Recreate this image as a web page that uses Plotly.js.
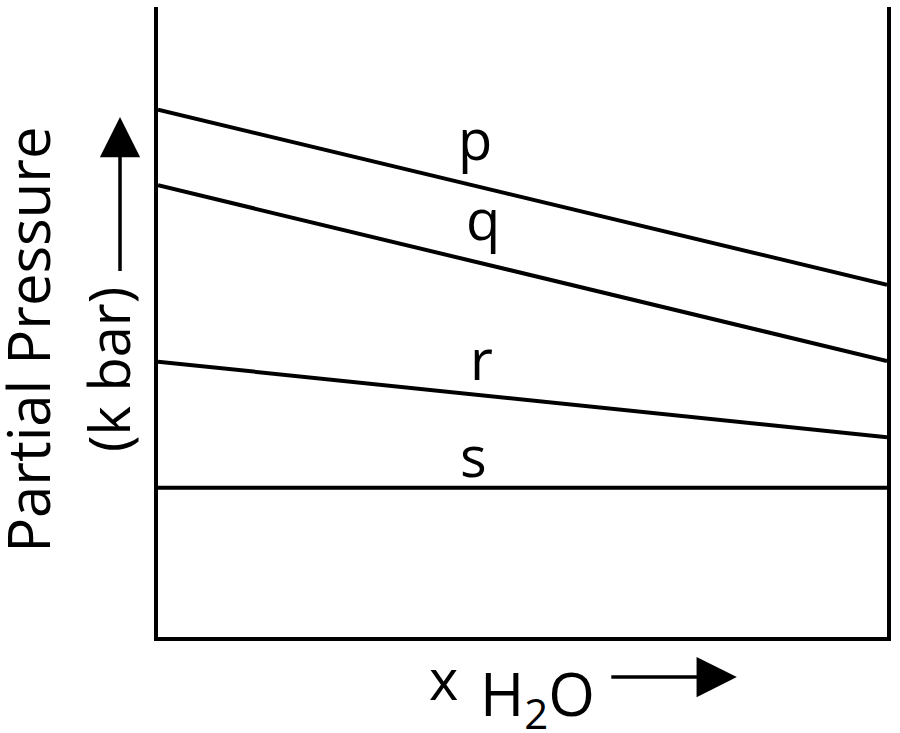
<!DOCTYPE html>
<html>
<head>
<meta charset="utf-8">
<script src="https://cdn.plot.ly/plotly-3.0.1.min.js"></script>
<style>
  body { margin: 0; background: #fff; }
  #chart { width: 900px; height: 733px; }
</style>
</head>
<body>
<div id="chart"></div>
<script>

// x: mole fraction of H2O (0 .. 1), y: partial pressure (arbitrary)
let xFrac = [0, 1]

let pLine = [8.37, 5.59]
let qLine = [7.17, 4.38]
let rLine = [4.37, 3.17]
let sLine = [2.37, 2.37]

let lineNames = ['p', 'q', 'r', 's']


function phaseGraph() {

    TESTER = document.getElementById('chart');

    var series = [pLine, qLine, rLine, sLine]

    var veri = series.map((ys, i) => {
        return {
            x: xFrac,
            y: ys,
            mode: 'lines',
            name: lineNames[i],
            line: {color: 'black', width: 4},
            hoverinfo: 'skip'
        }
    })

    var blackFont = {family: 'Open Sans', color: 'black', size: 56}

    // labels sitting above each line
    var labelPos = [[0.435, 7.92], [0.446, 6.65], [0.444, 4.43], [0.433, 2.89]]
    var notes = lineNames.map((n, i) => {
        return {
            x: labelPos[i][0], y: labelPos[i][1],
            xref: 'x', yref: 'y',
            xanchor: 'center', yanchor: 'middle',
            text: n, showarrow: false,
            font: blackFont
        }
    })

    // y title, two rotated lines + arrow
    notes.push({
        x: -0.179, y: 0.471, xref: 'paper', yref: 'paper',
        xanchor: 'center', yanchor: 'middle',
        text: 'Partial Pressure', showarrow: false, textangle: -90,
        font: {family: 'Open Sans', color: 'black', size: 58}
    })
    notes.push({
        x: -0.0686, y: 0.4254, xref: 'paper', yref: 'paper',
        xanchor: 'center', yanchor: 'middle',
        text: '(k bar)', showarrow: false, textangle: -90,
        font: blackFont
    })
    notes.push({
        x: -0.0521, y: 0.8254, xref: 'paper', yref: 'paper',
        ax: 0, ay: 156, text: ' ', font: {size: 1},
        showarrow: true, arrowhead: 2, arrowsize: 2.3, arrowwidth: 3.5,
        arrowcolor: 'black', standoff: 0, startstandoff: 0
    })

    // x title
    notes.push({
        x: 0.391, y: -0.0651, xref: 'paper', yref: 'paper',
        xanchor: 'center', yanchor: 'middle',
        text: 'x', showarrow: false,
        font: blackFont
    })
    notes.push({
        x: 0.520, y: -0.0952, xref: 'paper', yref: 'paper',
        xanchor: 'center', yanchor: 'middle',
        text: 'H<sub>2</sub>O', showarrow: false,
        font: {family: 'Open Sans', color: 'black', size: 60}
    })
    notes.push({
        x: 0.794, y: -0.0635, xref: 'paper', yref: 'paper',
        ax: -127, ay: 0, text: ' ', font: {size: 1},
        showarrow: true, arrowhead: 2, arrowsize: 2.3, arrowwidth: 3.5,
        arrowcolor: 'black', standoff: 0, startstandoff: 0
    })

    var layout = {
        width: 900,
        height: 733,
        margin: {l: 158, r: 13, t: 7, b: 96},
        paper_bgcolor: 'white',
        plot_bgcolor: 'white',
        showlegend: false,
        hovermode: false,

        xaxis: {
            range: [0, 1],
            showline: true, linecolor: 'black', linewidth: 4,
            showgrid: false, zeroline: false,
            ticks: '', showticklabels: false
        },

        yaxis: {
            range: [0, 10],
            showline: true, mirror: true, linecolor: 'black', linewidth: 4,
            showgrid: false, zeroline: false,
            ticks: '', showticklabels: false
        },

        annotations: notes
    };

    Plotly.newPlot(TESTER, veri, layout, {staticPlot: true});
}

phaseGraph()
</script>
</body>
</html>
